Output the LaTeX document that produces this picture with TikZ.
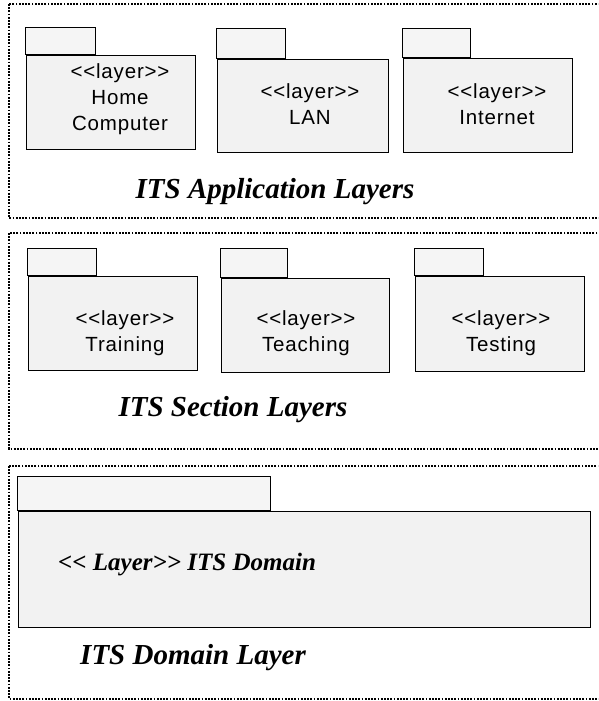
\documentclass[tikz,border=0pt]{standalone}
\usepackage{fontspec}
\setmainfont{Liberation Serif}
\newfontfamily\pkgfont[LetterSpace=4]{Liberation Sans}
\newcommand\lyr{<{}<layer>{}>}
\tikzset{
  layerbox/.style = {line width=1.8pt, dash pattern=on 1.8pt off 1.4pt},
  pkgbody/.style = {draw, line width=0.9pt, fill=black!5, inner sep=0pt},
  pkgtab/.style = {draw, line width=0.9pt, fill=black!4},
  pkgtext/.style = {align=center, inner sep=0pt, font=\pkgfont\fontsize{20.5}{26}\selectfont},
  layertitle/.style = {inner sep=0pt, font=\bfseries\itshape\fontsize{29}{34}\selectfont}
}

\begin{document}
\begin{tikzpicture}[x=1pt, y=-1pt]
\useasboundingbox (0,0) rectangle (598,701);
\clip (0,0) rectangle (598,701);
\draw[layerbox] (9,4) rectangle (620,218);
\draw[layerbox] (9,233) rectangle (620,449);
\draw[layerbox] (9,466) rectangle (620,699);

\node[pkgbody, minimum width=169pt, minimum height=94pt] (homepc) at (110.5,102) {};
\draw[pkgtab] (homepc.north west) rectangle ++(70,-27);
\node[pkgtext] (homepctext) at (120,99) {\lyr\\Home\\Computer};
\node[pkgbody, minimum width=171pt, minimum height=93pt] (lan) at (302.5,105.5) {};
\draw[pkgtab] (lan.north west) rectangle ++(69,-30);
\node[pkgtext] (lantext) at (310,104) {\lyr\\LAN};
\node[pkgbody, minimum width=169pt, minimum height=94pt] (inet) at (487.5,105) {};
\draw[pkgtab] (inet.north west) rectangle ++(68,-29);
\node[pkgtext] (inettext) at (497,104) {\lyr\\Internet};
\node[layertitle] (apptitle) at (275,192) {ITS Application Layers};

\node[pkgbody, minimum width=169pt, minimum height=94pt] (train) at (112.5,323) {};
\draw[pkgtab] (train.north west) rectangle ++(69,-27);
\node[pkgtext] (traintext) at (125,333) {\lyr\\Training};
\node[pkgbody, minimum width=168pt, minimum height=94pt] (teach) at (305,325) {};
\draw[pkgtab] (teach.north west) rectangle ++(67,-29);
\node[pkgtext] (teachtext) at (306,333) {\lyr\\Teaching};
\node[pkgbody, minimum width=169pt, minimum height=95pt] (test) at (499.5,323.5) {};
\draw[pkgtab] (test.north west) rectangle ++(69,-27);
\node[pkgtext] (testtext) at (501,333) {\lyr\\Testing};
\node[layertitle] (sectitle) at (233,410) {ITS Section Layers};

\node[pkgbody, minimum width=572pt, minimum height=116pt] (domain) at (304,569) {};
\draw[pkgtab] (domain.north west) rectangle ++(253,-34);
\node[layertitle, font=\bfseries\itshape\fontsize{25}{30}\selectfont, anchor=west] (domaintext) at (58,565) {<{}< Layer>{}> ITS Domain};
\node[layertitle] (domtitle) at (193,658) {ITS Domain Layer};
\end{tikzpicture}
\end{document}
